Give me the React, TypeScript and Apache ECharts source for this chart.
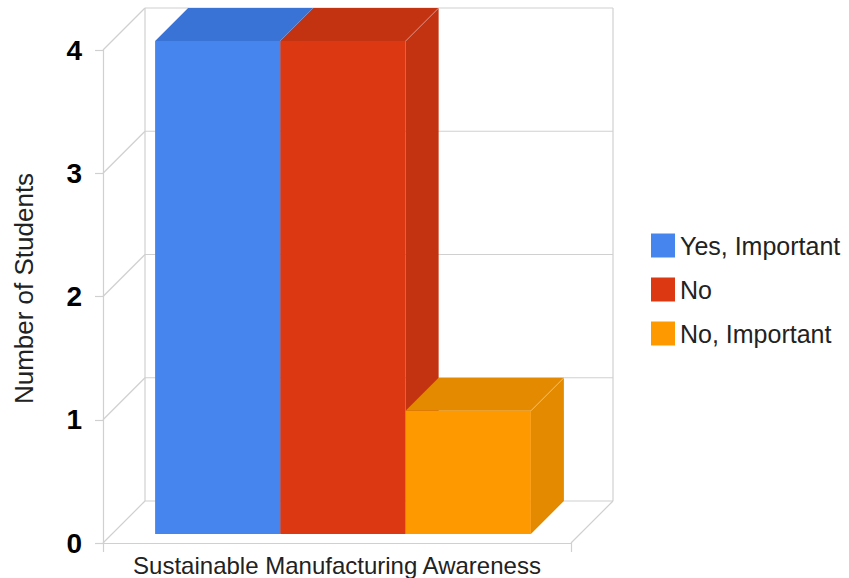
import React, { useEffect, useRef } from "react";
import * as echarts from "echarts";

const categories = ["Sustainable Manufacturing Awareness"];
const seriesNames = ["Yes, Important", "No", "No, Important"];
const seriesValues = [[4], [4], [1]];
const yTicks = [0, 1, 2, 3, 4];

const FRONT = ["#4684EE", "#DC3912", "#FF9900"];
const SIDE = ["#3A73D6", "#C43311", "#E38A00"];

const D = 42; // box depth (px)
const S = 9; // bar front-face depth offset
const GRID = "#D0D0D0";
const FONT = "Liberation Sans, Arial, sans-serif";

export default function App() {
  const ref = useRef<HTMLDivElement>(null);
  useEffect(() => {
    document.body.style.margin = "0";
    const chart = echarts.init(ref.current!, null, { renderer: "svg" });

    const wallSeries: any = {
      type: "custom",
      silent: true,
      z: 1,
      data: yTicks.map((t) => [0, t]),
      encode: { x: 0, y: 1 },
      renderItem: (params: any, api: any) => {
        const cs = params.coordSys;
        const x0 = cs.x;
        const x1 = cs.x + cs.width;
        const v = api.value(1);
        const y = api.coord([0, v])[1];
        const ls = { stroke: GRID, lineWidth: 1.2 };
        const children: any[] = [
          { type: "line", shape: { x1: x0, y1: y, x2: x0 + D, y2: y - D }, style: ls },
          { type: "line", shape: { x1: x0 + D, y1: y - D, x2: x1 + D, y2: y - D }, style: ls },
        ];
        if (v === 0) {
          const yTop = api.coord([0, 4])[1];
          children.push(
            { type: "line", shape: { x1: x1, y1: y, x2: x1 + D, y2: y - D }, style: ls },
            { type: "line", shape: { x1: x0 + D, y1: yTop - D, x2: x0 + D, y2: y - D }, style: ls },
            { type: "line", shape: { x1: x1 + D, y1: yTop - D, x2: x1 + D, y2: y - D }, style: ls }
          );
        }
        return { type: "group", children };
      },
    };

    const barSeries = seriesNames.map((name, i) => ({
      type: "custom",
      name,
      z: 2,
      itemStyle: { color: FRONT[i] },
      data: seriesValues[i].map((v, ci) => [ci, v]),
      encode: { x: 0, y: 1 },
      renderItem: (params: any, api: any) => {
        const ci = api.value(0);
        const v = api.value(1);
        const bw = api.size([1, 0])[0];
        const cx = api.coord([ci, 0])[0];
        const gw = bw * 0.803;
        const w = gw / seriesNames.length;
        const L = cx - gw / 2 - 3 + S + i * w;
        const yTop = api.coord([ci, v])[1] - S;
        const yBot = api.coord([ci, 0])[1] - S;
        const d = D - S;
        return {
          type: "group",
          children: [
            {
              type: "rect",
              shape: { x: L, y: yTop, width: w, height: yBot - yTop },
              style: { fill: FRONT[i] },
            },
            {
              type: "polygon",
              shape: { points: [[L, yTop], [L + w, yTop], [L + w + d, yTop - d], [L + d, yTop - d]] },
              style: { fill: SIDE[i] },
            },
            {
              type: "polygon",
              shape: { points: [[L + w, yTop], [L + w + d, yTop - d], [L + w + d, yBot - d], [L + w, yBot]] },
              style: { fill: SIDE[i] },
            },
            {
              type: "line",
              shape: { x1: L + w, y1: yTop, x2: L + w + d, y2: yTop - d },
              style: { stroke: "rgba(255,255,255,0.3)", lineWidth: 1 },
            },
          ],
        };
      },
    }));

    chart.setOption({
      animation: false,
      grid: { left: 103, right: 278, top: 50, bottom: 35, containLabel: false },
      legend: {
        orient: "vertical",
        left: 651,
        top: 233,
        padding: 0,
        itemWidth: 24,
        itemHeight: 24,
        itemGap: 19,
        icon: "rect",
        data: seriesNames,
        textStyle: { fontSize: 25, color: "#222", fontFamily: FONT },
      },
      xAxis: {
        type: "category",
        data: categories,
        axisLine: { show: true, lineStyle: { color: GRID, width: 1.2 } },
        axisTick: { show: true, length: 9, lineStyle: { color: GRID, width: 1.2 } },
        axisLabel: { fontSize: 24, color: "#222", margin: 10, fontFamily: FONT },
        splitLine: { show: false },
      },
      yAxis: {
        type: "value",
        min: 0,
        max: 4,
        interval: 1,
        name: "Number of Students",
        nameLocation: "middle",
        nameRotate: 90,
        nameGap: 66,
        nameTextStyle: { fontSize: 26, color: "#222", fontFamily: FONT, padding: [0, 0, 0, 16] },
        axisLine: { show: true, lineStyle: { color: GRID, width: 1.2 } },
        axisTick: { show: true, length: 8, lineStyle: { color: GRID, width: 1.2 } },
        axisLabel: {
          fontSize: 28,
          fontWeight: "bold",
          color: "#000",
          margin: 21,
          fontFamily: FONT,
        },
        splitLine: { show: false },
      },
      series: [wallSeries, ...barSeries],
    });
    return () => chart.dispose();
  }, []);
  return <div ref={ref} style={{ width: 849, height: 578 }} />;
}
